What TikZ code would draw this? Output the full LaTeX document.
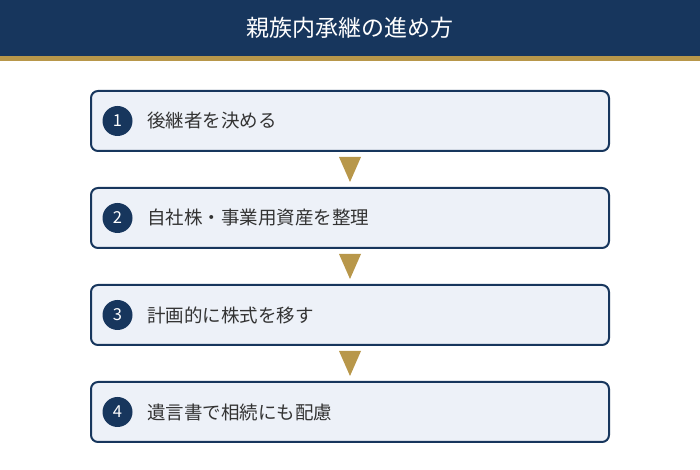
\documentclass[tikz,border=0pt]{standalone}
\usepackage{fontspec}
\setmainfont{Noto Sans CJK JP}
\usetikzlibrary{positioning}

\definecolor{navy}{HTML}{17365D}
\definecolor{gold}{HTML}{B8974A}
\definecolor{paleblue}{HTML}{EDF1F8}
\definecolor{textgray}{HTML}{333333}

\begin{document}
\begin{tikzpicture}[
    x=1pt, y=1pt,
    node distance=35pt,
    titlebar/.style={rectangle, fill=navy, minimum width=700pt, minimum height=56pt, inner sep=0pt, text=white, font=\fontsize{23}{26}\selectfont},
    goldbar/.style={rectangle, fill=gold, minimum width=700pt, minimum height=5pt, inner sep=0pt},
    stepbox/.style={rectangle, draw=navy, line width=2pt, rounded corners=7pt, fill=paleblue, minimum width=518pt, minimum height=60pt, inner sep=0pt},
    num/.style={circle, fill=navy, minimum size=30pt, inner sep=0pt, text=white, font=\fontsize{16.5}{18}\selectfont},
    lbl/.style={anchor=west, inner sep=0pt, text=textgray, font=\fontsize{18.5}{21}\selectfont},
    tri/.style={fill=gold}
]
\useasboundingbox (0,0) rectangle (700,470);

% header
\node[titlebar] (title) at (350,442) {親族内承継の進め方};
\node[goldbar, below=0pt of title] (rule) {};

% steps
\node[stepbox] (s1) at (350,349) {};
\node[stepbox, below=of s1] (s2) {};
\node[stepbox, below=of s2] (s3) {};
\node[stepbox, below=of s3] (s4) {};

\node[num] (n1) at ([xshift=27.5pt]s1.west) {1};
\node[num] (n2) at ([xshift=27.5pt]s2.west) {2};
\node[num] (n3) at ([xshift=27.5pt]s3.west) {3};
\node[num] (n4) at ([xshift=27.5pt]s4.west) {4};

\node[lbl] (t1) at ([xshift=57pt]s1.west) {後継者を決める};
\node[lbl] (t2) at ([xshift=57pt]s2.west) {自社株・事業用資産を整理};
\node[lbl] (t3) at ([xshift=57pt]s3.west) {計画的に株式を移す};
\node[lbl] (t4) at ([xshift=57pt]s4.west) {遺言書で相続にも配慮};

% arrows between steps
\fill[tri] ([xshift=-11pt, yshift=-5pt]s1.south) -- ([xshift=11pt, yshift=-5pt]s1.south) -- ([yshift=5pt]s2.north) -- cycle;
\fill[tri] ([xshift=-11pt, yshift=-5pt]s2.south) -- ([xshift=11pt, yshift=-5pt]s2.south) -- ([yshift=5pt]s3.north) -- cycle;
\fill[tri] ([xshift=-11pt, yshift=-5pt]s3.south) -- ([xshift=11pt, yshift=-5pt]s3.south) -- ([yshift=5pt]s4.north) -- cycle;

\end{tikzpicture}
\end{document}
